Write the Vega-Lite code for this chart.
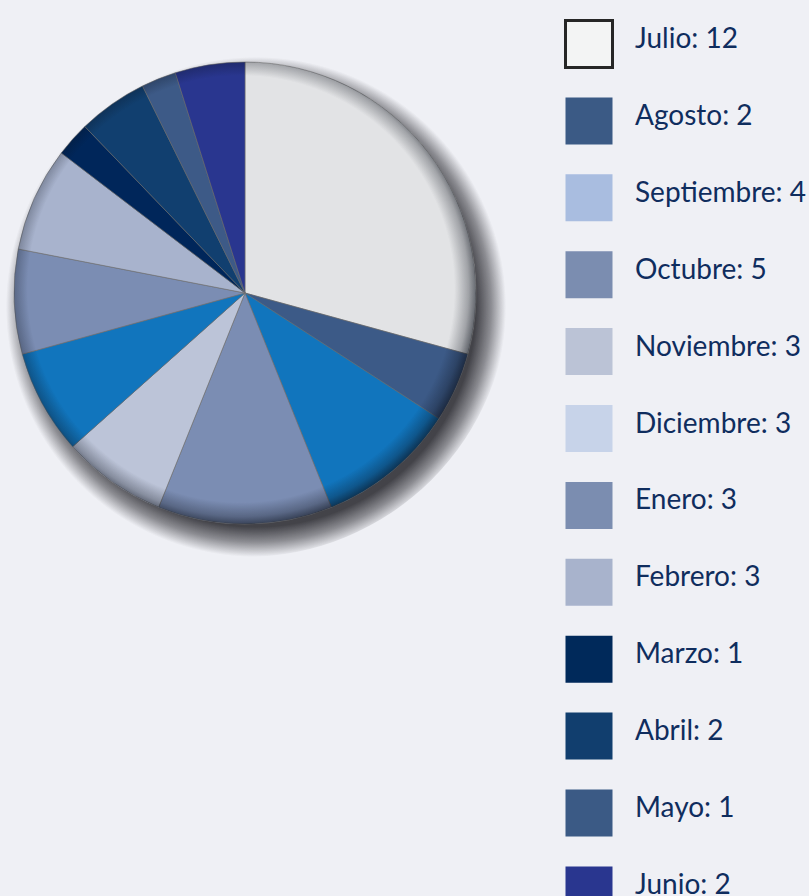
{
  "$schema": "https://vega.github.io/schema/vega-lite/v6.json",
  "width": 490,
  "height": 586,
  "autosize": {"type": "none"},
  "padding": {"left": 0, "top": 0, "right": 319, "bottom": 310},
  "background": "#eff0f5",
  "config": {"view": {"stroke": null}},
  "data": {
    "values": [
      {"orden": 1, "mes": "Julio", "valor": 12},
      {"orden": 2, "mes": "Agosto", "valor": 2},
      {"orden": 3, "mes": "Septiembre", "valor": 4},
      {"orden": 4, "mes": "Octubre", "valor": 5},
      {"orden": 5, "mes": "Noviembre", "valor": 3},
      {"orden": 6, "mes": "Diciembre", "valor": 3},
      {"orden": 7, "mes": "Enero", "valor": 3},
      {"orden": 8, "mes": "Febrero", "valor": 3},
      {"orden": 9, "mes": "Marzo", "valor": 1},
      {"orden": 10, "mes": "Abril", "valor": 2},
      {"orden": 11, "mes": "Mayo", "valor": 1},
      {"orden": 12, "mes": "Junio", "valor": 2}
    ]
  },
  "transform": [{"calculate": "datum.mes + ': ' + datum.valor", "as": "etiqueta"}],
  "layer": [
    {
      "data": {"values": [{}]},
      "mark": {
        "type": "arc",
        "theta": 0,
        "theta2": 6.2832,
        "radius": 264,
        "color": {
          "gradient": "radial",
          "x1": 0.5208, "y1": 0.5265, "r1": 0,
          "x2": 0.5208, "y2": 0.5265, "r2": 0.4735,
          "stops": [
            {"offset": 0, "color": "rgba(58,58,64,0.95)"},
            {"offset": 0.88, "color": "rgba(58,58,64,0.95)"},
            {"offset": 0.94, "color": "rgba(58,58,64,0.55)"},
            {"offset": 1, "color": "rgba(58,58,64,0)"}
          ]
        }
      },
      "encoding": {}
    },
    {
      "mark": {"type": "arc", "radius": 231, "stroke": "#707070", "strokeWidth": 0.6},
      "encoding": {
        "theta": {"field": "valor", "type": "quantitative", "stack": true},
        "order": {"field": "orden", "type": "quantitative"},
        "color": {
          "field": "etiqueta",
          "type": "nominal",
          "scale": {
            "domain": ["Julio: 12", "Agosto: 2", "Septiembre: 4", "Octubre: 5", "Noviembre: 3", "Diciembre: 3", "Enero: 3", "Febrero: 3", "Marzo: 1", "Abril: 2", "Mayo: 1", "Junio: 2"],
            "range": ["#e2e3e5", "#3c5a87", "#1175bd", "#7b8db3", "#bcc4d8", "#1175bd", "#7b8db3", "#a8b3cd", "#00265a", "#113f6f", "#3d5a87", "#29368f"]
          },
          "legend": null
        }
      }
    },
    {
      "data": {"values": [{}]},
      "mark": {
        "type": "arc",
        "theta": 0,
        "theta2": 6.2832,
        "radius": 231,
        "color": {
          "gradient": "radial",
          "x1": 0.4913, "y1": 0.4913, "r1": 0,
          "x2": 0.4913, "y2": 0.4913, "r2": 0.513,
          "stops": [
            {"offset": 0, "color": "rgba(10,15,25,0)"},
            {"offset": 0.9, "color": "rgba(10,15,25,0)"},
            {"offset": 0.96, "color": "rgba(10,15,25,0.3)"},
            {"offset": 1, "color": "rgba(10,15,25,0.65)"}
          ]
        }
      },
      "encoding": {}
    },
    {
      "mark": {"type": "point", "shape": "square", "filled": true, "opacity": 0},
      "encoding": {
        "color": {
          "field": "etiqueta",
          "type": "nominal",
          "scale": {
            "domain": ["Julio: 12", "Agosto: 2", "Septiembre: 4", "Octubre: 5", "Noviembre: 3", "Diciembre: 3", "Enero: 3", "Febrero: 3", "Marzo: 1", "Abril: 2", "Mayo: 1", "Junio: 2"],
            "range": ["#f3f4f4", "#3b5a85", "#a9bde0", "#7b8db0", "#bbc3d6", "#c7d3e9", "#7b8db0", "#a8b3cc", "#00295a", "#113e6e", "#3b5a85", "#29368f"]
          },
          "legend": {
            "title": null,
            "orient": "none",
            "legendX": 564,
            "legendY": 19,
            "symbolType": "square",
            "symbolSize": 2209,
            "symbolOpacity": 1,
            "symbolStrokeWidth": 0,
            "rowPadding": 16.9,
            "labelOffset": 21,
            "labelFont": "Lato",
            "labelFontSize": 28,
            "labelColor": "#0f2d5e",
            "labelLimit": 0,
            "encode": {
              "symbols": {
                "update": {
                  "stroke": [{"test": "datum.value === 'Julio: 12'", "value": "#262626"}, {"value": "transparent"}],
                  "strokeWidth": {"value": 3}
                }
              },
              "labels": {"update": {"dy": {"value": -4}}}
            }
          }
        }
      }
    }
  ],
  "resolve": {"scale": {"color": "independent"}}
}
